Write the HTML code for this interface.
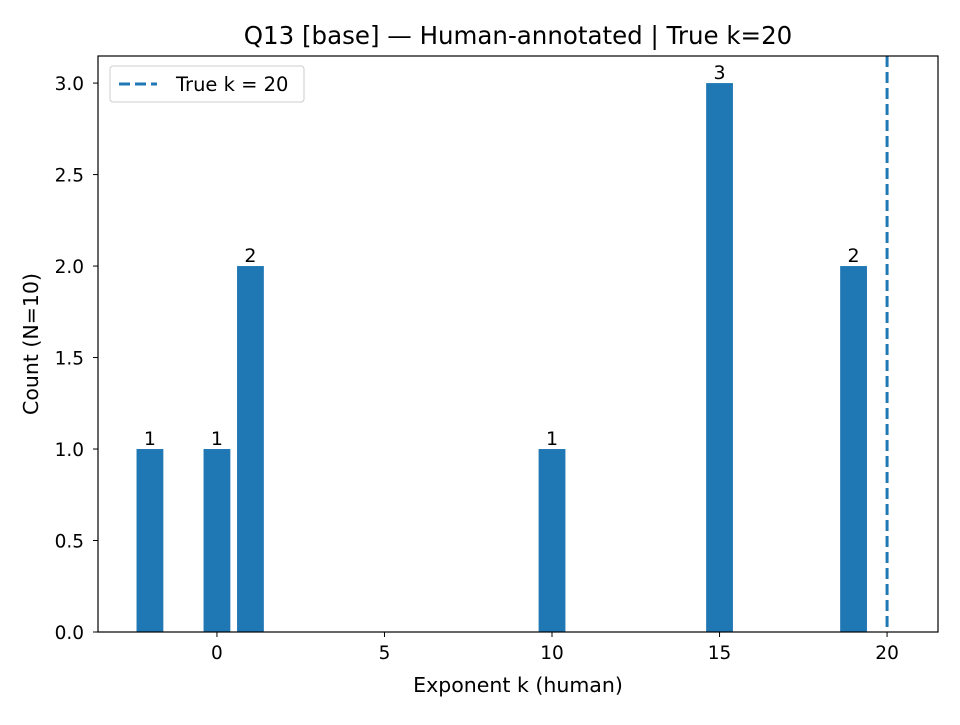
<!DOCTYPE html>
<html><head><meta charset="utf-8"><style>
body{margin:0;background:#fff;}
svg text{font-family:"DejaVu Sans","Liberation Sans",sans-serif;}
</style></head><body>
<svg id="chart" width="960" height="720" xmlns="http://www.w3.org/2000/svg">
<text x="518" y="44" font-size="24.5" text-anchor="middle">Q13 [base] — Human-annotated | True k=20</text>
<g id="plot"></g>
<text x="518" y="692" font-size="20.5" text-anchor="middle">Exponent k (human)</text>
<text transform="translate(38,344) rotate(-90)" font-size="20.5" text-anchor="middle">Count (N=10)</text>
</svg>
<script>
const categories = [-2, 0, 1, 10, 15, 19];
const counts = [1, 1, 2, 1, 3, 2];
const xTicks = [0, 5, 10, 15, 20];
const yTicks = [0.0, 0.5, 1.0, 1.5, 2.0, 2.5, 3.0];
const trueK = 20;

const L=98,R=938,T=56,B=632;
const xMin=-3.55,xMax=21.52,yMin=0,yMax=3.148;
const xs=v=>L+(v-xMin)/(xMax-xMin)*(R-L);
const ys=v=>B-(v-yMin)/(yMax-yMin)*(B-T);
const NS="http://www.w3.org/2000/svg";
const g=document.getElementById('plot');
function mk(tag,attrs,parent){const e=document.createElementNS(NS,tag);for(const k in attrs)e.setAttribute(k,attrs[k]);(parent||g).appendChild(e);return e;}

categories.forEach((c,i)=>{
  const x0=xs(c-0.4),x1=xs(c+0.4);
  const r=mk('rect',{x:x0,y:ys(counts[i]),width:x1-x0,height:ys(0)-ys(counts[i]),fill:'#1f77b4'});
  
  
  const t=mk('text',{x:xs(c),y:ys(counts[i])-4,'font-size':'19','text-anchor':'middle'});
  t.textContent=counts[i];
  
  
});

const vl=mk('line',{x1:xs(trueK),x2:xs(trueK),y1:T,y2:B,stroke:'#1f77b4','stroke-width':3,'stroke-dasharray':'11 5'});



const fr=mk('rect',{x:L,y:T,width:R-L,height:B-T,fill:'none',stroke:'#000','stroke-width':1.2});



xTicks.forEach(v=>{
  mk('line',{x1:xs(v),x2:xs(v),y1:B,y2:B+5,stroke:'#000'});
  const t=mk('text',{x:xs(v),y:B+27,'font-size':'18.5','text-anchor':'middle'});
  t.textContent=v;
  
  
});
yTicks.forEach(v=>{
  mk('line',{x1:L-5,x2:L,y1:ys(v),y2:ys(v),stroke:'#000'});
  const t=mk('text',{x:L-14,y:ys(v)+7,'font-size':'18.5','text-anchor':'end'});
  t.textContent=v.toFixed(1);
  
  
});

const lg=mk('g',{});


mk('rect',{x:110,y:66,width:194,height:36,rx:3,fill:'#fff',stroke:'#ccc'},lg);
mk('line',{x1:119,x2:157,y1:84,y2:84,stroke:'#1f77b4','stroke-width':3,'stroke-dasharray':'11 5'},lg);
const lt=mk('text',{x:176,y:91,'font-size':'19.5'},lg);
lt.textContent='True k = 20';


</script>
</body></html>
